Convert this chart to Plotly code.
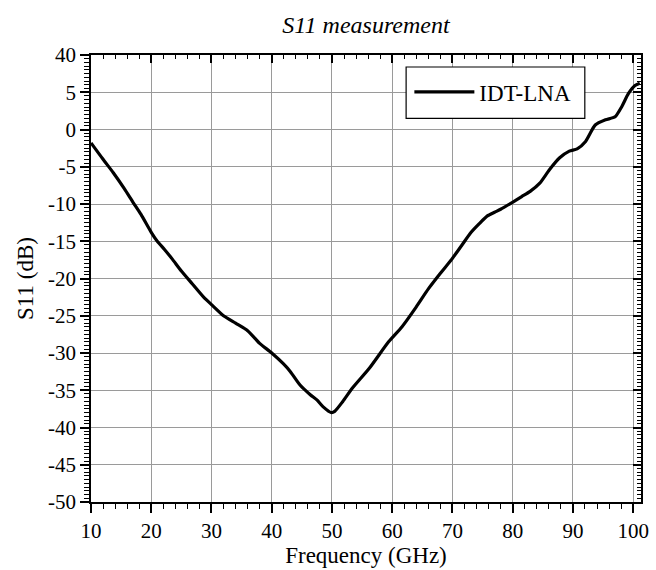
import plotly.graph_objects as go

freq_ghz = [10, 12, 13.7, 15.5, 17, 18.3, 20, 21, 22.2, 23.5, 25, 26.8, 28.7, 30, 32, 34, 36, 38,
            40, 42, 43.1, 44.7, 46.4, 47.5, 48.5, 49.9, 50.5, 51.8, 53.4, 56.2, 59.4, 61.6,
            64, 66, 68, 69.9, 71.5, 73.1, 74.5, 75.8, 77, 78, 79.9, 81.5, 82.9, 84.5, 86.1,
            87.8, 89.4, 90.7, 92.1, 93.7, 95.4, 97, 98.1, 99.2, 100.3, 101.1]
s11_db = [-1.8, -4.0, -5.8, -7.9, -9.8, -11.4, -13.8, -15.0, -16.1, -17.4, -19.0, -20.7, -22.5,
          -23.5, -25.0, -26.0, -27.0, -28.7, -30.0, -31.5, -32.5, -34.3, -35.6, -36.3, -37.2,
          -38.0, -37.8, -36.5, -34.7, -32.05, -28.5, -26.5, -23.8, -21.4, -19.3, -17.4, -15.6,
          -13.8, -12.6, -11.6, -11.1, -10.7, -9.8, -9.0, -8.3, -7.2, -5.4, -3.8, -2.9, -2.6,
          -1.6, 0.6, 1.3, 1.7, 3.05, 4.8, 5.9, 6.2]

y_tickvals = [10, 5, 0, -5, -10, -15, -20, -25, -30, -35, -40, -45, -50]
y_ticktext = ["40", "5", "0", "-5", "-10", "-15", "-20", "-25", "-30", "-35", "-40", "-45", "-50"]
x_tickvals = [10, 20, 30, 40, 50, 60, 70, 80, 90, 100]

FONT = "Liberation Serif"
X_RANGE = [10, 101.3]
Y_RANGE = [-50, 10]

fig = go.Figure()
fig.add_trace(go.Scatter(x=freq_ghz, y=s11_db, mode="lines", name="IDT-LNA",
                         line=dict(color="black", width=3.2, shape="spline", smoothing=0.6)))
# companion trace so the top/right frame axes are drawn (invisible)
fig.add_trace(go.Scatter(x=freq_ghz, y=s11_db, mode="lines", xaxis="x2", yaxis="y2",
                         line=dict(color="rgba(0,0,0,0)", width=0), showlegend=False,
                         hoverinfo="skip"))

axis_common = dict(
    showline=True, linecolor="black", linewidth=1.5,
    tickcolor="black", tickwidth=1.5, zeroline=False,
    tickfont=dict(family=FONT, size=21, color="black"),
)

fig.update_layout(
    xaxis=dict(range=X_RANGE, tickvals=x_tickvals, ticks="outside", ticklen=9, mirror=True,
               showgrid=True, gridcolor="#9a9a9a", gridwidth=1,
               title=dict(text="Frequency (GHz)", font=dict(family=FONT, size=23, color="black"), standoff=4),
               minor=dict(ticks="outside", ticklen=5, tickwidth=1.2, tickcolor="black", dtick=2, showgrid=False),
               **axis_common),
    yaxis=dict(range=Y_RANGE, tickvals=y_tickvals, ticktext=y_ticktext, ticks="outside", ticklen=9, mirror=True,
               showgrid=True, gridcolor="#9a9a9a", gridwidth=1,
               title=dict(text="S11 (dB)", font=dict(family=FONT, size=23, color="black"), standoff=8),
               minor=dict(ticks="outside", ticklen=5, tickwidth=1.2, tickcolor="black", dtick=0.5, showgrid=False),
               **axis_common),
    xaxis2=dict(range=X_RANGE, overlaying="x", side="top", tickvals=x_tickvals, ticks="inside", ticklen=8,
                showticklabels=False, showgrid=False,
                minor=dict(ticks="inside", ticklen=4, tickwidth=1.2, tickcolor="black", dtick=2, showgrid=False),
                **axis_common),
    yaxis2=dict(range=Y_RANGE, overlaying="y", side="right", tickvals=y_tickvals, ticks="inside", ticklen=8,
                showticklabels=False, showgrid=False, anchor="x",
                minor=dict(ticks="inside", ticklen=4, tickwidth=1.2, tickcolor="black", dtick=0.5, showgrid=False),
                **axis_common),
)

fig.update_layout(
    width=656, height=570,
    margin=dict(l=91, r=7, t=55, b=65),
    paper_bgcolor="white", plot_bgcolor="white",
    title=dict(text="<i>S11 measurement</i>", x=0.5, xref="paper", xanchor="center",
               y=1 - 25 / 570, yref="container", yanchor="middle",
               font=dict(family=FONT, size=24, color="black")),
    legend=dict(x=(414 - 91) / 558, y=(504.6 - 91.7) / 450, xanchor="left", yanchor="middle",
                bgcolor="rgba(0,0,0,0)", borderwidth=0,
                font=dict(family=FONT, size=23, color="black"),
                itemwidth=60, tracegroupgap=0),
    shapes=[dict(type="rect", xref="paper", yref="paper",
                 x0=(410.7 - 91) / 558, x1=(592 - 91) / 558,
                 y0=(504.6 - 118.3) / 450, y1=(504.6 - 66.7) / 450,
                 line=dict(color="black", width=1.2), fillcolor="white", layer="above")],
    showlegend=True,
)

fig.write_html("out.html")
